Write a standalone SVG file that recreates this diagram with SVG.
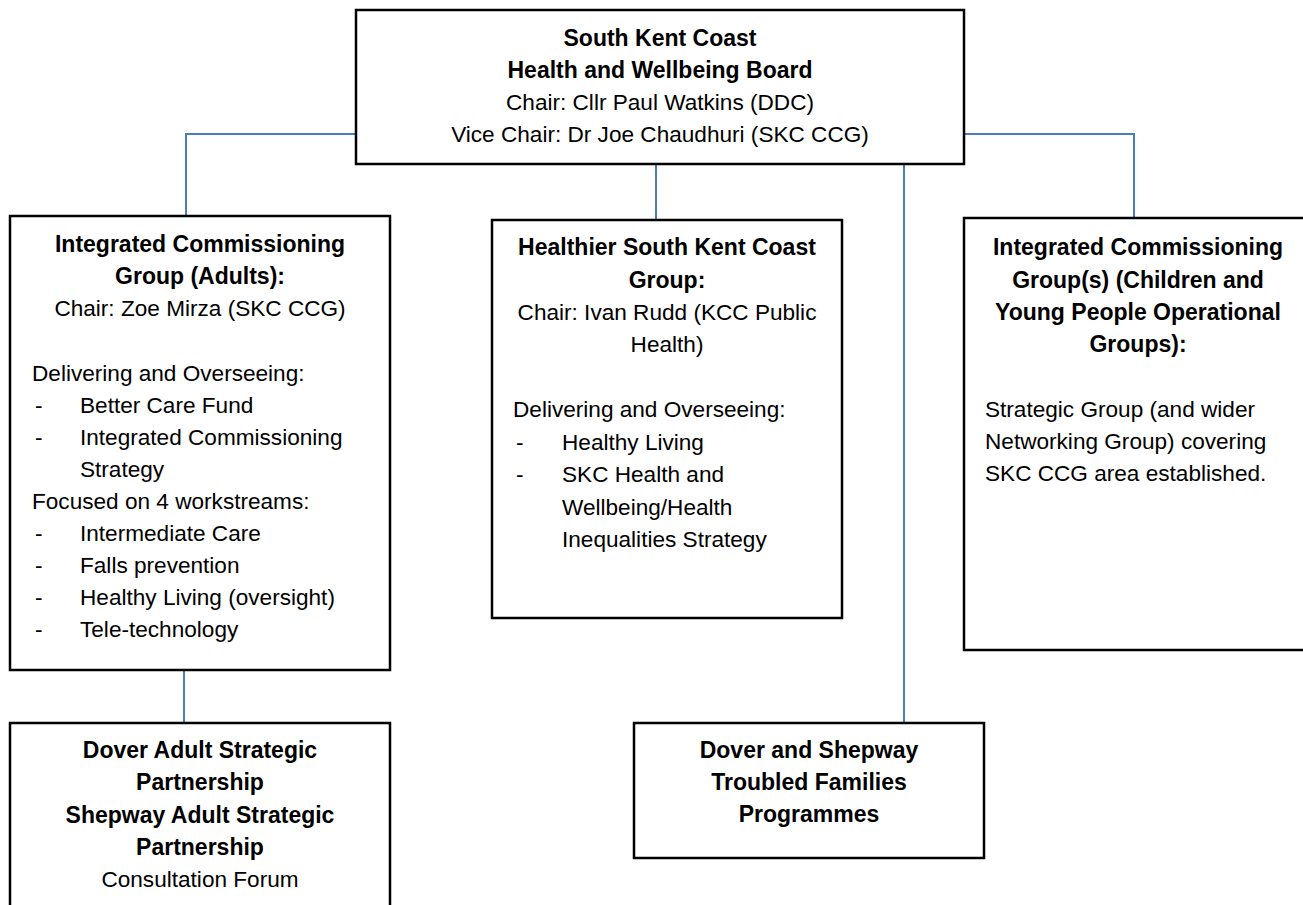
<svg xmlns="http://www.w3.org/2000/svg" width="1303" height="905" viewBox="0 0 1303 905">
<style>
.box{fill:#fff;stroke:#000;stroke-width:2.5}
.con{fill:none;stroke:#4A7EBB;stroke-width:2}
text{font-family:"Liberation Sans",Arial,sans-serif;font-size:22.6px;fill:#000}
.b{font-weight:bold;font-size:23px}
.c{text-anchor:middle}
</style>
<rect width="1303" height="905" fill="#fff"/>
<g id="connectors">
<path class="con" d="M356,134 H186 V216"/>
<path class="con" d="M656,164 V220"/>
<path class="con" d="M964,134 H1134 V218"/>
<path class="con" d="M904,164 V723"/>
<path class="con" d="M184,670 V723"/>
</g>
<g id="board">
<rect class="box" x="356" y="10" width="608" height="154"/>
<text class="b c" x="660" y="46">South Kent Coast</text>
<text class="b c" x="660" y="78">Health and Wellbeing Board</text>
<text class="c" x="660" y="110">Chair: Cllr Paul Watkins (DDC)</text>
<text class="c" x="660" y="142">Vice Chair: Dr Joe Chaudhuri (SKC CCG)</text>
</g>
<g id="icg-adults">
<rect class="box" x="10" y="216" width="380" height="454"/>
<text class="b c" x="200" y="252">Integrated Commissioning</text>
<text class="b c" x="200" y="284">Group (Adults):</text>
<text class="c" x="200" y="316">Chair: Zoe Mirza (SKC CCG)</text>
<text x="32" y="381">Delivering and Overseeing:</text>
<text x="35" y="413">-</text><text x="80" y="413">Better Care Fund</text>
<text x="35" y="445">-</text><text x="80" y="445">Integrated Commissioning</text>
<text x="80" y="477">Strategy</text>
<text x="32" y="509">Focused on 4 workstreams:</text>
<text x="35" y="541">-</text><text x="80" y="541">Intermediate Care</text>
<text x="35" y="573">-</text><text x="80" y="573">Falls prevention</text>
<text x="35" y="605">-</text><text x="80" y="605">Healthy Living (oversight)</text>
<text x="35" y="637">-</text><text x="80" y="637">Tele-technology</text>
</g>
<g id="healthier-skc">
<rect class="box" x="492" y="220" width="350" height="398"/>
<text class="b c" x="667" y="255">Healthier South Kent Coast</text>
<text class="b c" x="667" y="288">Group:</text>
<text class="c" x="667" y="320">Chair: Ivan Rudd (KCC Public</text>
<text class="c" x="667" y="352">Health)</text>
<text x="513" y="417">Delivering and Overseeing:</text>
<text x="516" y="450">-</text><text x="562" y="450">Healthy Living</text>
<text x="516" y="482">-</text><text x="562" y="482">SKC Health and</text>
<text x="562" y="515">Wellbeing/Health</text>
<text x="562" y="547">Inequalities Strategy</text>
</g>
<g id="icg-children">
<rect class="box" x="964" y="218" width="360" height="432"/>
<text class="b c" x="1138" y="255">Integrated Commissioning</text>
<text class="b c" x="1138" y="288">Group(s) (Children and</text>
<text class="b c" x="1138" y="320">Young People Operational</text>
<text class="b c" x="1138" y="352">Groups):</text>
<text x="985" y="417">Strategic Group (and wider</text>
<text x="985" y="449">Networking Group) covering</text>
<text x="985" y="481">SKC CCG area established.</text>
</g>
<g id="adult-partnerships">
<rect class="box" x="10" y="723" width="380" height="200"/>
<text class="b c" x="200" y="758">Dover Adult Strategic</text>
<text class="b c" x="200" y="790">Partnership</text>
<text class="b c" x="200" y="823">Shepway Adult Strategic</text>
<text class="b c" x="200" y="855">Partnership</text>
<text class="c" x="200" y="887">Consultation Forum</text>
</g>
<g id="troubled-families">
<rect class="box" x="634" y="723" width="350" height="135"/>
<text class="b c" x="809" y="758">Dover and Shepway</text>
<text class="b c" x="809" y="790">Troubled Families</text>
<text class="b c" x="809" y="822">Programmes</text>
</g>
</svg>
